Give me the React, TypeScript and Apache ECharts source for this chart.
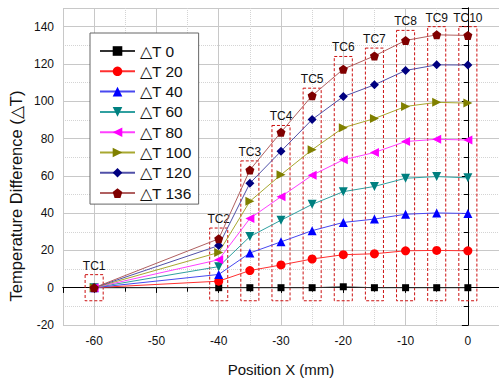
import React, { useEffect, useRef } from "react";
import * as echarts from "echarts";

const xPositions = [-60, -40, -35, -30, -25, -20, -15, -10, -5, 0];
const dT0 = [0, 0, 0, 0, 0, 0.5, 0, 0, 0, 0];
const dT20 = [0, 3.5, 9.2, 12.2, 15.4, 17.7, 18.2, 19.8, 20, 19.8];
const dT40 = [0, 7.1, 18.6, 24.6, 30.6, 35, 36.8, 39.4, 40.1, 39.8];
const dT60 = [0, 11.3, 27.4, 36.2, 44.7, 51.5, 54.3, 58.7, 59.6, 58.9];
const dT80 = [0, 15, 37.1, 48.8, 60.3, 68.6, 72.5, 78.4, 79.6, 79.2];
const dT100 = [0, 18.9, 46.3, 60.6, 74, 85.8, 90.7, 97.2, 99.4, 99];
const dT120 = [0, 22.6, 56, 73.2, 90.2, 102.5, 108.8, 116.5, 119.5, 119.4];
const dT136 = [0, 26.2, 63.1, 83.4, 103, 117.2, 124.3, 132.6, 135.6, 135.3];

const seriesNames = ["\u25B3T 0", "\u25B3T 20", "\u25B3T 40", "\u25B3T 60", "\u25B3T 80", "\u25B3T 100", "\u25B3T 120", "\u25B3T 136"];
const seriesValues = [dT0, dT20, dT40, dT60, dT80, dT100, dT120, dT136];

const boxLabels = ["TC1", "TC2", "TC3", "TC4", "TC5", "TC6", "TC7", "TC8", "TC9", "TC10"];
const boxTop = [7, 32, 68, 87, 107, 124, 128.5, 138, 140, 140];
const boxBottom = [-7, -7, -7, -7, -7, -7, -7, -7, -7, -7];

const FONT = "Liberation Sans, Arial, sans-serif";
const PENTAGON = "path://M0,-10 L9.51,-3.09 L5.88,8.09 L-5.88,8.09 L-9.51,-3.09 Z";

const styles = [
  { marker: "#000000", line: "#333333", symbol: "rect", size: 7, rotate: 0 },
  { marker: "#ff0000", line: "#ff3030", symbol: "circle", size: 9, rotate: 0 },
  { marker: "#0000ff", line: "#4848f0", symbol: "triangle", size: 9, rotate: 0 },
  { marker: "#008080", line: "#30a0a0", symbol: "triangle", size: 9, rotate: 180 },
  { marker: "#ff00ff", line: "#ff40ff", symbol: "triangle", size: 9, rotate: 90 },
  { marker: "#808000", line: "#a8a830", symbol: "triangle", size: 9, rotate: -90 },
  { marker: "#000080", line: "#5050a8", symbol: "diamond", size: 9, rotate: 0 },
  { marker: "#800000", line: "#b06060", symbol: PENTAGON, size: 9, rotate: 0 },
];

export default function App() {
  const ref = useRef<HTMLDivElement>(null);
  useEffect(() => {
    if (!ref.current) return;
    const chart = echarts.init(ref.current, undefined, { renderer: "svg" });
    const lineSeries = seriesValues.map((vals, i) => ({
      name: seriesNames[i],
      type: "line",
      data: xPositions.map((x, j) => [x, vals[j]]),
      symbol: styles[i].symbol,
      symbolSize: styles[i].size,
      symbolRotate: styles[i].rotate,
      showAllSymbol: true,
      itemStyle: { color: styles[i].marker },
      lineStyle: { color: styles[i].line, width: 1 },
      z: 3,
    }));
    const boxSeries = {
      type: "custom",
      silent: true,
      z: 2,
      data: xPositions.map((x, i) => [x, boxTop[i], boxBottom[i]]),
      encode: { x: 0, y: [1, 2] },
      renderItem: (params: any, api: any) => {
        const x = api.value(0);
        const p1 = api.coord([x - 1.45, api.value(1)]);
        const p2 = api.coord([x + 1.45, api.value(2)]);
        return {
          type: "group",
          children: [
            {
              type: "rect",
              shape: { x: p1[0], y: p1[1], width: p2[0] - p1[0], height: p2[1] - p1[1] },
              style: { fill: "none", stroke: "#cc1111", lineWidth: 1, lineDash: [3, 2] },
            },
            {
              type: "text",
              style: {
                text: boxLabels[params.dataIndex],
                x: (p1[0] + p2[0]) / 2,
                y: p1[1] - 3,
                align: "center",
                verticalAlign: "bottom",
                fill: "#111",
                font: "12px " + FONT,
              },
            },
          ],
        };
      },
    };
    const axisLine = { show: true, lineStyle: { color: "#000", width: 1 } };
    chart.setOption({
      animation: false,
      backgroundColor: "#fff",
      grid: { left: 63, top: 8, width: 437, height: 321 },
      legend: {
        orient: "vertical",
        left: 90,
        top: 33,
        data: seriesNames,
        itemWidth: 35,
        itemHeight: 12,
        itemGap: 4.3,
        padding: [10, 7, 3, 9],
        backgroundColor: "#fff",
        borderColor: "#666",
        borderWidth: 1,
        textStyle: { fontSize: 15.5, fontFamily: FONT, color: "#111", lineHeight: 15 },
      },
      xAxis: [
        {
          type: "value",
          min: -65,
          max: 5,
          splitNumber: 7,
          position: "bottom",
          axisLine,
          axisTick: { show: true, length: 5, lineStyle: { color: "#000" } },
          minorTick: { show: true, splitNumber: 2, length: 3, lineStyle: { color: "#000" } },
          splitLine: { show: true, lineStyle: { color: "#c8c8c8", width: 1 } },
          minorSplitLine: { show: true, lineStyle: { color: "#d4d4d4", type: "dotted", width: 1 } },
          axisLabel: { showMinLabel: false, showMaxLabel: false, fontSize: 12, fontFamily: FONT, color: "#111", margin: 10 },
          name: "Position X (mm)",
          nameLocation: "middle",
          nameGap: 37,
          nameTextStyle: { fontSize: 15, fontFamily: FONT, color: "#111" },
        },
        {
          type: "value",
          min: -65,
          max: 5,
          splitNumber: 7,
          position: "top",
          axisLine,
          axisTick: { show: true, inside: true, length: 5, lineStyle: { color: "#000" } },
          minorTick: { show: true, splitNumber: 2, length: 4, lineStyle: { color: "#000" } },
          splitLine: { show: false },
          axisLabel: { show: false },
        },
      ],
      yAxis: [
        {
          type: "value",
          min: -20,
          max: 150,
          interval: 20,
          position: "left",
          axisLine,
          axisTick: { show: true, length: 5, lineStyle: { color: "#000" } },
          minorTick: { show: true, splitNumber: 2, length: 3, lineStyle: { color: "#000" } },
          splitLine: { show: true, lineStyle: { color: "#c8c8c8", width: 1 } },
          minorSplitLine: { show: true, lineStyle: { color: "#d4d4d4", type: "dotted", width: 1 } },
          axisLabel: { showMaxLabel: false, fontSize: 12, fontFamily: FONT, color: "#111", margin: 9 },
        },
        {
          type: "value",
          min: -20,
          max: 150,
          interval: 20,
          position: "right",
          axisLine,
          axisTick: { show: true, inside: true, length: 6, lineStyle: { color: "#000" } },
          minorTick: { show: true, splitNumber: 2, length: 4, lineStyle: { color: "#000" } },
          splitLine: { show: false },
          axisLabel: { show: false },
        },
      ],
      graphic: [
        {
          type: "text",
          x: 16,
          y: 196,
          rotation: Math.PI / 2,
          style: {
            text: "Temperature Difference (\u25B3T)",
            align: "center",
            verticalAlign: "middle",
            font: "16.5px " + FONT,
            fill: "#111",
          },
        },
      ],
      series: [boxSeries, ...lineSeries],
    });
    return () => chart.dispose();
  }, []);
  return <div ref={ref} style={{ position: "fixed", left: 0, top: 0, width: 499, height: 382 }} />;
}
